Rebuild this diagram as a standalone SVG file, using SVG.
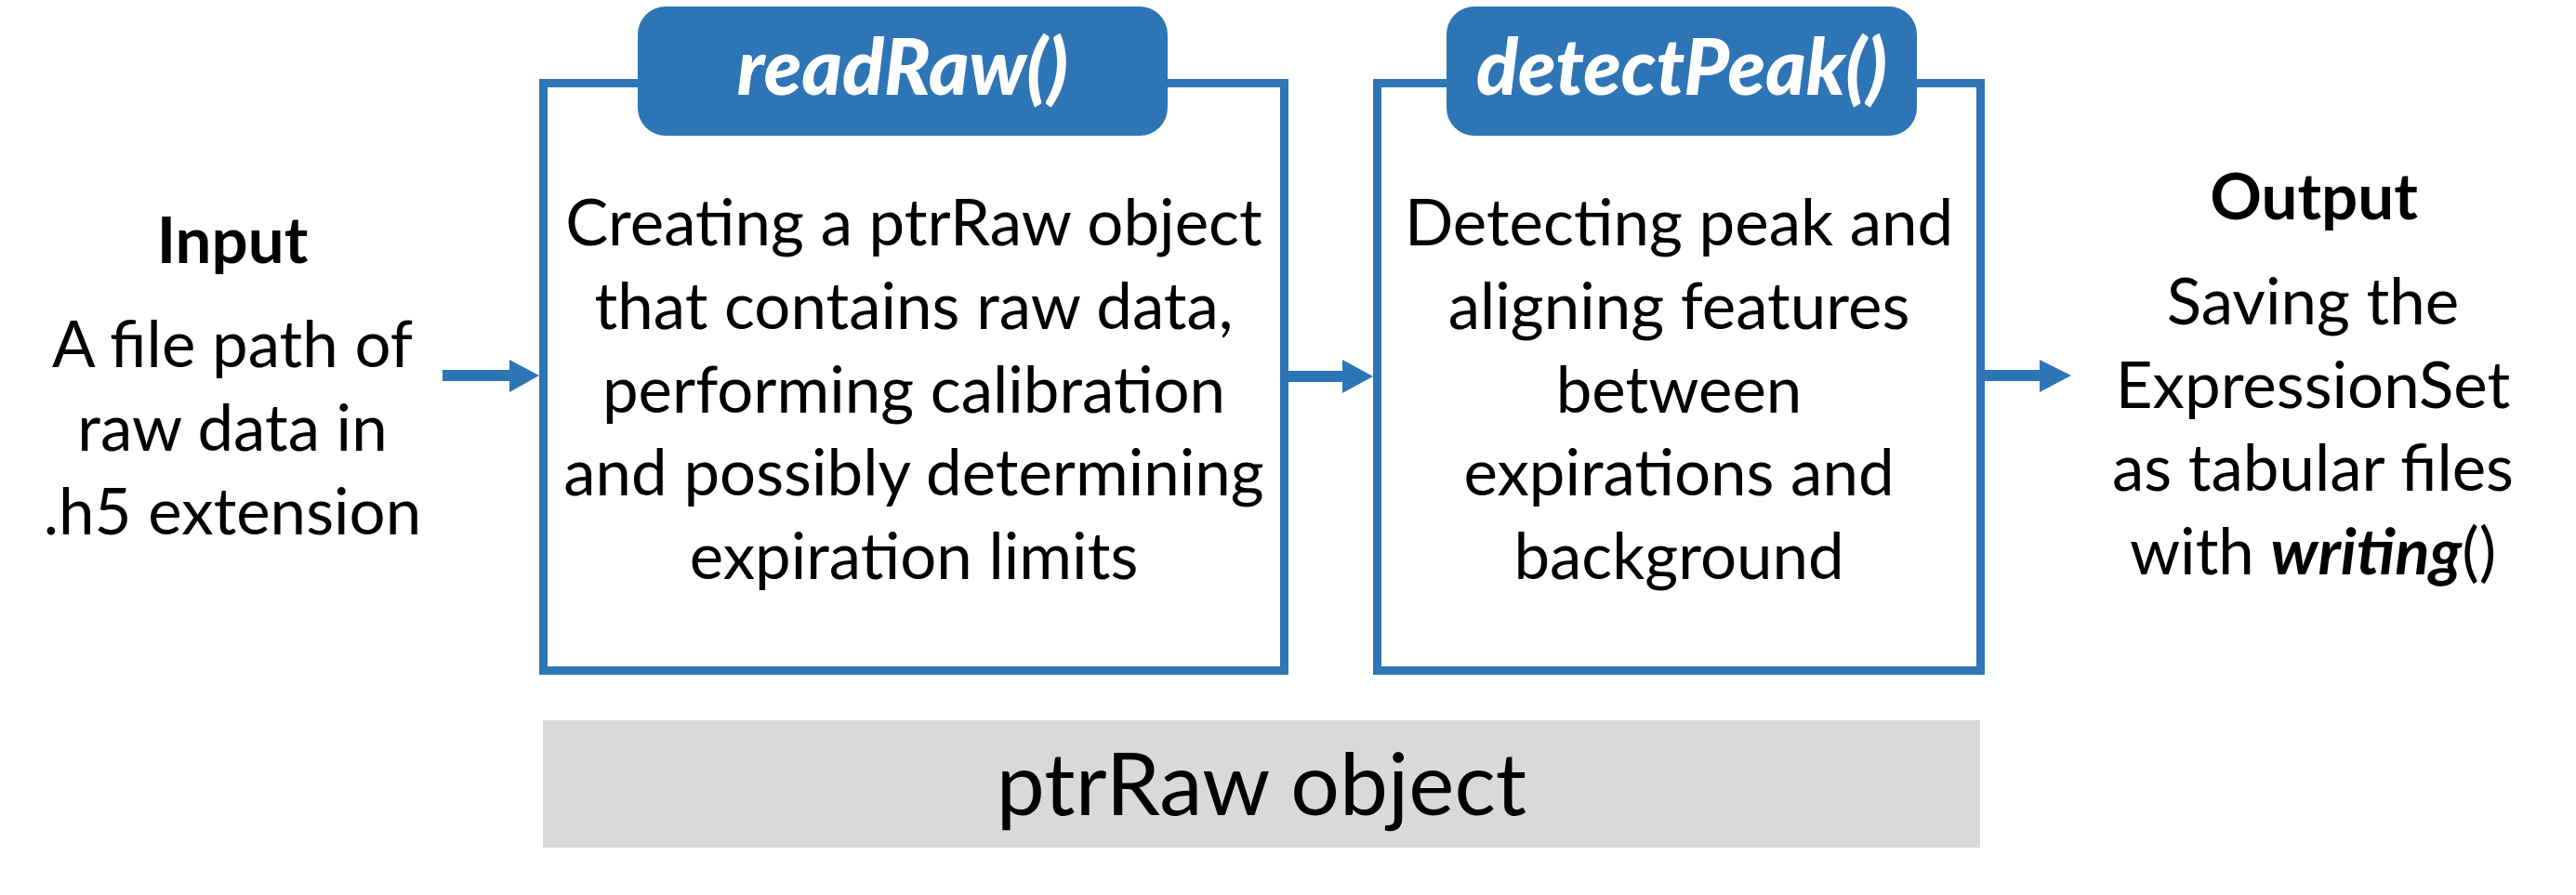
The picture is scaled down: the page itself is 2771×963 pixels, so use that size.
<svg xmlns="http://www.w3.org/2000/svg" width="2771" height="963" viewBox="0 0 2771 963">
<defs>
<style>
.box{fill:#FFFFFF;stroke:#2E75B6;stroke-width:9}
.tab{fill:#2E75B6}
.bar{fill:#D9D9D9}
.conn{stroke:#2E75B6;stroke-width:12;fill:none}
.head{fill:#2E75B6}
text{font-family:Lato,"Open Sans","Liberation Sans",sans-serif;fill:#000000;text-anchor:middle}
.body{font-size:69px}
.hdr{font-size:69px;font-weight:bold}
.tabt{font-size:83px;font-weight:900;font-style:italic;fill:#FFFFFF}
.bart{font-size:93px}
</style>
</defs>
<rect width="2771" height="963" fill="#FFFFFF"/>
<g id="input">
<text class="hdr" x="250" y="283">Input</text>
<text class="body" x="250" y="395">A file path of</text>
<text class="body" x="250" y="485">raw data in</text>
<text class="body" x="250" y="575">.h5 extension</text>
</g>
<g id="readRaw">
<rect class="box" x="584.5" y="89.5" width="797" height="632"/>
<rect class="tab" x="686" y="7" width="570" height="139" rx="30" ry="30"/>
<text class="tabt" x="971" y="102">readRaw()</text>
<text class="body" x="983" y="264">Creating a ptrRaw object</text>
<text class="body" x="983" y="354">that contains raw data,</text>
<text class="body" x="983" y="444">performing calibration</text>
<text class="body" x="983" y="533">and possibly determining</text>
<text class="body" x="983" y="623">expiration limits</text>
</g>
<g id="detectPeak">
<rect class="box" x="1481.5" y="89.5" width="649" height="632"/>
<rect class="tab" x="1556" y="7" width="506" height="139" rx="30" ry="30"/>
<text class="tabt" x="1809" y="102">detectPeak()</text>
<text class="body" x="1806" y="264">Detecting peak and</text>
<text class="body" x="1806" y="354">aligning features</text>
<text class="body" x="1806" y="444">between</text>
<text class="body" x="1806" y="533">expirations and</text>
<text class="body" x="1806" y="623">background</text>
</g>
<g id="output">
<text class="hdr" x="2489" y="236">Output</text>
<text class="body" x="2488" y="349">Saving the</text>
<text class="body" x="2488" y="439">ExpressionSet</text>
<text class="body" x="2488" y="528">as tabular files</text>
<text class="body" x="2488" y="618">with <tspan font-weight="bold" font-style="italic">writing</tspan>()</text>
</g>
<g id="ptrRawObject">
<rect class="bar" x="584" y="775" width="1546" height="137"/>
<text class="bart" x="1357" y="877">ptrRaw object</text>
</g>
<g id="connectors">
<line class="conn" x1="476" y1="404" x2="550" y2="404"/>
<polygon class="head" points="548,387 580,404 548,422"/>
<line class="conn" x1="1386" y1="405" x2="1446" y2="405"/>
<polygon class="head" points="1444,387 1477,405 1444,423"/>
<line class="conn" x1="2135" y1="404" x2="2196" y2="404"/>
<polygon class="head" points="2194,387 2228,404 2194,422"/>
</g>
</svg>
